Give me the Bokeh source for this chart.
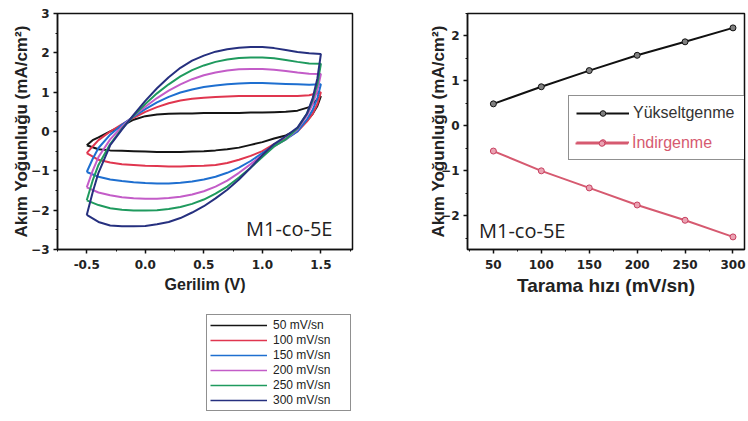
from bokeh.plotting import figure
from bokeh.layouts import row, column
from bokeh.models import Legend, LegendItem, FixedTicker, Label, PrintfTickFormatter
from bokeh.embed import file_html
from bokeh.resources import INLINE

# ---------------- data: cyclic voltammograms ----------------
fwd_v = [-0.5, -0.45, -0.4, -0.3, -0.2, -0.1, 0.0, 0.1, 0.2, 0.3, 0.4, 0.5,
         0.6, 0.7, 0.8, 0.9, 1.0, 1.1, 1.2, 1.3, 1.4, 1.5]
rev_v = [1.5, 1.47, 1.43, 1.38, 1.3, 1.2, 1.1, 1.0, 0.9, 0.8, 0.7, 0.6, 0.5,
         0.4, 0.3, 0.2, 0.1, 0.0, -0.1, -0.2, -0.3, -0.4, -0.5]

cv50_fwd = [-0.35, -0.22, -0.15, 0.0, 0.14, 0.3, 0.39, 0.43, 0.45, 0.46, 0.46, 0.47,
            0.47, 0.47, 0.47, 0.48, 0.48, 0.49, 0.5, 0.53, 0.62, 0.9]
cv50_rev = [0.9, 0.65, 0.45, 0.27, 0.05, -0.1, -0.18, -0.27, -0.34, -0.41, -0.45, -0.48, -0.5,
            -0.51, -0.52, -0.52, -0.52, -0.51, -0.5, -0.49, -0.48, -0.45, -0.35]

cv100_fwd = [-0.55, -0.38, -0.22, 0.0, 0.18, 0.35, 0.5, 0.62, 0.72, 0.79, 0.83, 0.86,
             0.88, 0.89, 0.9, 0.9, 0.9, 0.9, 0.9, 0.9, 0.92, 1.0]
cv100_rev = [1.0, 0.7, 0.45, 0.25, 0.0, -0.18, -0.32, -0.5, -0.62, -0.72, -0.8, -0.85, -0.87,
             -0.88, -0.89, -0.89, -0.88, -0.87, -0.85, -0.83, -0.79, -0.72, -0.55]

cv150_fwd = [-1.03, -0.7, -0.42, -0.08, 0.17, 0.38, 0.57, 0.74, 0.88, 0.99, 1.07, 1.13,
             1.17, 1.2, 1.22, 1.23, 1.23, 1.22, 1.21, 1.2, 1.19, 1.2]
cv150_rev = [1.2, 0.85, 0.55, 0.3, 0.0, -0.2, -0.36, -0.55, -0.75, -0.92, -1.05, -1.15, -1.22,
             -1.27, -1.3, -1.32, -1.32, -1.31, -1.29, -1.26, -1.22, -1.15, -1.03]

cv200_fwd = [-1.42, -1.0, -0.65, -0.2, 0.12, 0.4, 0.63, 0.85, 1.04, 1.2, 1.33, 1.43,
             1.5, 1.55, 1.58, 1.59, 1.59, 1.57, 1.54, 1.5, 1.47, 1.46]
cv200_rev = [1.46, 1.05, 0.7, 0.4, 0.05, -0.2, -0.38, -0.6, -0.83, -1.05, -1.25, -1.4, -1.52,
             -1.6, -1.66, -1.69, -1.71, -1.71, -1.7, -1.67, -1.62, -1.55, -1.42]

cv250_fwd = [-1.75, -1.25, -0.85, -0.32, 0.07, 0.4, 0.7, 0.97, 1.2, 1.4, 1.56, 1.68,
             1.77, 1.83, 1.87, 1.88, 1.88, 1.86, 1.82, 1.77, 1.73, 1.72]
cv250_rev = [1.72, 1.2, 0.8, 0.45, 0.08, -0.2, -0.38, -0.65, -0.92, -1.17, -1.4, -1.58, -1.73,
             -1.84, -1.92, -1.97, -2.0, -2.01, -2.01, -1.99, -1.95, -1.87, -1.75]

cv300_fwd = [-2.12, -1.55, -1.05, -0.35, 0.05, 0.42, 0.78, 1.1, 1.38, 1.62, 1.8, 1.93,
             2.03, 2.09, 2.13, 2.15, 2.15, 2.12, 2.07, 2.02, 1.99, 1.97]
cv300_rev = [1.97, 1.35, 0.85, 0.45, 0.1, -0.12, -0.32, -0.6, -0.92, -1.22, -1.48, -1.7, -1.9,
             -2.06, -2.2, -2.3, -2.36, -2.4, -2.41, -2.41, -2.39, -2.3, -2.12]

scan_labels = ["50 mV/sn", "100 mV/sn", "150 mV/sn", "200 mV/sn", "250 mV/sn", "300 mV/sn"]
cv_colors = ["#151515", "#e0364f", "#1e6fd0", "#c35cc8", "#1f9a5e", "#26307f"]

# ---------------- data: peak current vs scan rate ----------------
scan_rate = [50, 100, 150, 200, 250, 300]
oxidation = [0.49, 0.87, 1.23, 1.57, 1.87, 2.18]
reduction = [-0.56, -1.0, -1.38, -1.76, -2.1, -2.47]

FONT = "Liberation Sans"
TICK_FONT = "DejaVu Sans"
TXT = "#222222"


def style_axes(p, xlabel_size, ylabel_size):
    for ax in (p.xaxis[0], p.yaxis[0]):
        ax.axis_line_color = "#111111"
        ax.axis_line_width = 1.5
        ax.major_tick_out = 4
        ax.major_tick_in = 0
        ax.minor_tick_out = 2
        ax.minor_tick_in = 0
        ax.major_tick_line_width = 1.5
        ax.major_tick_line_color = "#111111"
        ax.minor_tick_line_color = "#111111"
        ax.major_label_text_font = TICK_FONT
        ax.major_label_text_font_style = "bold"
        ax.major_label_text_font_size = "12px"
        ax.major_label_text_color = TXT
        ax.axis_label_text_font = FONT
        ax.axis_label_text_font_style = "bold"
        ax.axis_label_text_color = TXT
    p.xaxis.axis_label_text_font_size = xlabel_size
    p.yaxis.axis_label_text_font_size = ylabel_size
    p.xaxis.major_label_standoff = 6
    p.yaxis.major_label_standoff = 4
    p.grid.visible = False
    p.outline_line_color = "#111111"
    p.outline_line_width = 1.5
    p.background_fill_color = "white"
    p.border_fill_color = "white"


# ---------------- left: CV curves ----------------
p1 = figure(frame_width=295, frame_height=236, x_range=(-0.75, 1.77), y_range=(-3, 3),
            output_backend="svg", toolbar_location=None,
            min_border_left=57, min_border_right=21, min_border_top=13, min_border_bottom=52)
style_axes(p1, "16px", "17px")
p1.xaxis.axis_label = "Gerilim (V)"
p1.yaxis.axis_label = "Akım Yoğunluğu (mA/cm²)"
p1.xaxis.ticker = FixedTicker(ticks=[-0.5, 0.0, 0.5, 1.0, 1.5],
                              minor_ticks=[-0.75, -0.25, 0.25, 0.75, 1.25, 1.75])
p1.xaxis.formatter = PrintfTickFormatter(format="%.1f")
p1.yaxis.ticker = FixedTicker(ticks=[-3, -2, -1, 0, 1, 2, 3],
                              minor_ticks=[-2.5, -1.5, -0.5, 0.5, 1.5, 2.5])
p1.xaxis.axis_label_standoff = 4
p1.yaxis.axis_label_standoff = -3

cv_curves = [(cv50_fwd, cv50_rev), (cv100_fwd, cv100_rev), (cv150_fwd, cv150_rev),
             (cv200_fwd, cv200_rev), (cv250_fwd, cv250_rev), (cv300_fwd, cv300_rev)]
for (fw, rv), col in zip(cv_curves, cv_colors):
    p1.line(fwd_v + rev_v, fw + rv, line_color=col, line_width=2)

p1.add_layout(Label(x=0.86, y=-2.46, text="M1-co-5E", text_font="Open Sans",
                    text_font_size="20px", text_color=TXT, text_baseline="middle"))

# ---------------- legend of the CV curves, in a strip under the left plot ----------------
# (its own view range lies away from the data, so only the legend is seen)
pl = figure(frame_width=295, frame_height=120, x_range=(5, 6), y_range=(5, 6),
            x_axis_location=None, y_axis_location=None,
            min_border_left=57, min_border_right=21, min_border_top=0, min_border_bottom=0,
            output_backend="svg", toolbar_location=None)
pl.grid.visible = False
pl.outline_line_color = None
leg_items = []
for (fw, rv), col, lab in zip(cv_curves, cv_colors, scan_labels):
    r = pl.line(fwd_v + rev_v, fw + rv, line_color=col, line_width=1.5)
    leg_items.append(LegendItem(label=lab, renderers=[r]))
leg1 = Legend(items=leg_items, location=(149, 10), padding=3, spacing=1,
              label_height=14, glyph_height=14, glyph_width=57, label_standoff=6,
              label_width=74, margin=0, border_line_color="#222222", border_line_width=1.2,
              label_text_font=FONT, label_text_font_size="12px", label_text_color=TXT)
pl.add_layout(leg1)

# ---------------- right: peak currents ----------------
p2 = figure(frame_width=277, frame_height=236, x_range=(23, 312), y_range=(-2.75, 2.5),
            output_backend="svg", toolbar_location=None,
            min_border_left=94, min_border_right=4, min_border_top=13, min_border_bottom=52)
style_axes(p2, "19px", "17px")
p2.xaxis.axis_label = "Tarama hızı (mV/sn)"
p2.yaxis.axis_label = "Akım Yoğunluğu (mA/cm²)"
p2.xaxis.ticker = FixedTicker(ticks=[50, 100, 150, 200, 250, 300],
                              minor_ticks=[25, 75, 125, 175, 225, 275])
p2.yaxis.ticker = FixedTicker(ticks=[-2, -1, 0, 1, 2],
                              minor_ticks=[-2.5, -1.5, -0.5, 0.5, 1.5, 2.5])
p2.xaxis.axis_label_standoff = 3
p2.yaxis.axis_label_standoff = -10

ox_line = p2.line(scan_rate, oxidation, line_color="#111111", line_width=2)
ox_pts = p2.scatter(scan_rate, oxidation, size=6, fill_color="#808080", line_color="#111111")
rd_line = p2.line(scan_rate, reduction, line_color="#d65a70", line_width=2)
rd_pts = p2.scatter(scan_rate, reduction, size=6, fill_color="#eaa2b2", line_color="#c84060")

legA = Legend(items=[LegendItem(label="Yükseltgenme", renderers=[ox_line, ox_pts]),
                     LegendItem(label=" ", renderers=[rd_line, rd_pts])],
              location=(101, 89), padding=7, spacing=9, label_height=20, glyph_height=14,
              glyph_width=53, label_standoff=4, label_width=106, margin=0,
              border_line_color="#222222", border_line_width=1.5,
              label_text_font=FONT, label_text_font_size="16px", label_text_color="#333333")
legB = Legend(items=[LegendItem(label="İndirgenme", renderers=[rd_line, rd_pts])],
              location=(108, 96), padding=0, spacing=0, label_height=20, glyph_height=14,
              glyph_width=53, label_standoff=4, label_width=106, margin=0,
              border_line_alpha=0, background_fill_alpha=0,
              label_text_font=FONT, label_text_font_size="16px", label_text_color="#d65a70")
p2.add_layout(legA)
p2.add_layout(legB)

p2.add_layout(Label(x=35, y=-2.33, text="M1-co-5E", text_font="Open Sans",
                    text_font_size="20px", text_color=TXT, text_baseline="middle"))

layout = row(column(p1, pl), p2)
open("out.html", "w").write(file_html(layout, INLINE))
